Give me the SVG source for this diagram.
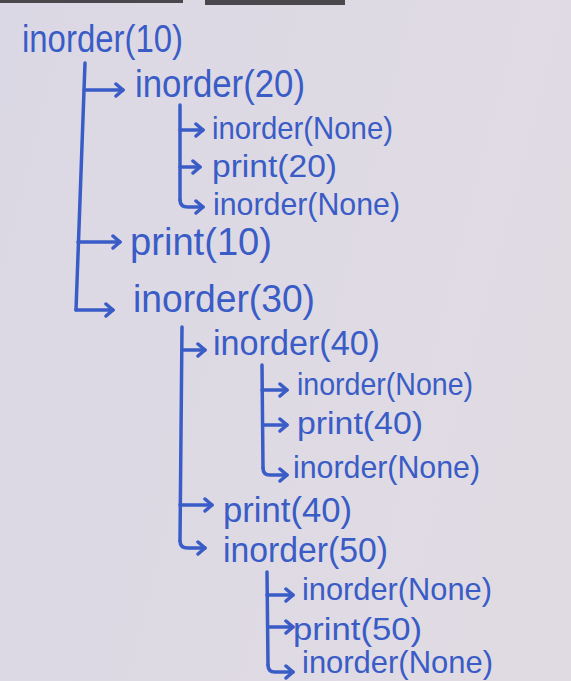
<svg xmlns="http://www.w3.org/2000/svg" width="571" height="681" viewBox="0 0 571 681">
<defs>
<linearGradient id="bg" x1="0" y1="0" x2="1" y2="0.3">
<stop offset="0" stop-color="#dbd8e5"/>
<stop offset="1" stop-color="#e0dbe3"/>
</linearGradient>
<marker id="ah" markerUnits="userSpaceOnUse" markerWidth="16" markerHeight="16" refX="10" refY="8" orient="auto">
<path d="M3,2 L10,8 L3,14" fill="none" stroke="#3a5cc6" stroke-width="3.5" stroke-linecap="round" stroke-linejoin="round"/>
</marker>
</defs>
<style>
text{font-family:"Liberation Sans",Arial,sans-serif;fill:#3a5cc6;}
.a{font-size:38px;}
.b{font-size:35px;}
.c{font-size:32px;}
.ln{fill:none;stroke:#3a5cc6;stroke-width:3.5;stroke-linecap:round;stroke-linejoin:round;}
.ar{fill:none;stroke:#3a5cc6;stroke-width:3.5;stroke-linecap:round;stroke-linejoin:round;marker-end:url(#ah);}
</style>
<rect x="0" y="0" width="571" height="681" fill="url(#bg)"/>
<path d="M0,0 H183 V3 H0 Z M205,0 H345 V5 H205 Z" fill="#4a474d"/>

<g id="connectors">
<path class="ln" d="M85,63 L76,310"/>
<path class="ar" d="M84,90 L123,90"/>
<path class="ar" d="M78,242 L120,242"/>
<path class="ar" d="M76,310 L113,310"/>

<path class="ln" d="M180,105 L180,200"/>
<path class="ar" d="M180,200 Q180,207 188,207 L203,207"/>
<path class="ar" d="M180,130 L203,130"/>
<path class="ar" d="M180,167 L200,167"/>

<path class="ln" d="M182,327 L180,541"/>
<path class="ar" d="M180,541 Q180,548 188,548 L205,548"/>
<path class="ar" d="M182,350 L205,350"/>
<path class="ar" d="M180,505 L212,505"/>

<path class="ln" d="M262,365 L263,468"/>
<path class="ar" d="M263,468 Q263,475 270,475 L287,475"/>
<path class="ar" d="M262,390 L287,390"/>
<path class="ar" d="M263,425 L287,425"/>

<path class="ln" d="M267,572 L268,665"/>
<path class="ar" d="M268,665 Q268,672 275,672 L293,672"/>
<path class="ar" d="M267,595 L293,595"/>
<path class="ar" d="M268,627 L293,627"/>
</g>

<g id="n-inorder10"><text class="a" x="22" y="52" textLength="161" lengthAdjust="spacingAndGlyphs">inorder(10)</text></g>
<g id="n-inorder20"><text class="a" x="135" y="97" textLength="170" lengthAdjust="spacingAndGlyphs">inorder(20)</text></g>
<g id="n-none1"><text class="c" x="212" y="139" textLength="181" lengthAdjust="spacingAndGlyphs">inorder(None)</text></g>
<g id="n-print20"><text class="c" x="212" y="177" textLength="125" lengthAdjust="spacingAndGlyphs">print(20)</text></g>
<g id="n-none2"><text class="c" x="213" y="215" textLength="187" lengthAdjust="spacingAndGlyphs">inorder(None)</text></g>
<g id="n-print10"><text class="a" x="130" y="255" textLength="142" lengthAdjust="spacingAndGlyphs">print(10)</text></g>
<g id="n-inorder30"><text class="a" x="133" y="312" textLength="182" lengthAdjust="spacingAndGlyphs">inorder(30)</text></g>
<g id="n-inorder40"><text class="b" x="213" y="355" textLength="167" lengthAdjust="spacingAndGlyphs">inorder(40)</text></g>
<g id="n-none3"><text class="c" x="297" y="395" textLength="176" lengthAdjust="spacingAndGlyphs">inorder(None)</text></g>
<g id="n-print40a"><text class="c" x="297" y="434" textLength="126" lengthAdjust="spacingAndGlyphs">print(40)</text></g>
<g id="n-none4"><text class="c" x="293" y="478" textLength="187" lengthAdjust="spacingAndGlyphs">inorder(None)</text></g>
<g id="n-print40b"><text class="b" x="223" y="522" textLength="129" lengthAdjust="spacingAndGlyphs">print(40)</text></g>
<g id="n-inorder50"><text class="b" x="223" y="562" textLength="165" lengthAdjust="spacingAndGlyphs">inorder(50)</text></g>
<g id="n-none5"><text class="c" x="302" y="600" textLength="190" lengthAdjust="spacingAndGlyphs">inorder(None)</text></g>
<g id="n-print50"><text class="c" x="293" y="640" textLength="129" lengthAdjust="spacingAndGlyphs">print(50)</text></g>
<g id="n-none6"><text class="c" x="302" y="673" textLength="191" lengthAdjust="spacingAndGlyphs">inorder(None)</text></g>
</svg>
